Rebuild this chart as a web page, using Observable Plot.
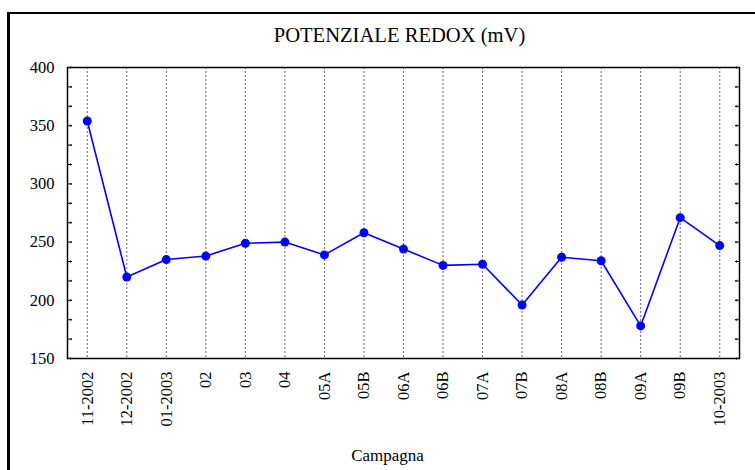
<!DOCTYPE html>
<html><head><meta charset="utf-8">
<script src="https://cdn.jsdelivr.net/npm/d3@7"></script>
<script src="https://cdn.jsdelivr.net/npm/@observablehq/plot@0.6"></script>
<style>
html,body{margin:0;padding:0;background:#fff;overflow:hidden;width:755px;height:470px}
#border{position:absolute;left:7px;top:12px;width:800px;height:520px;border-left:3px solid #000;border-top:2px solid #000}
#chart{position:absolute;left:0;top:0}
#chart svg text{font-family:'Liberation Serif','DejaVu Serif',serif}
</style></head><body><div id="border"></div><div id="chart"></div>
<script>
const campagne = ["11-2002","12-2002","01-2003","02","03","04","05A","05B","06A","06B","07A","07B","08A","08B","09A","09B","10-2003"];
const redox = [354,220,235,238,249,250,239,258,244,230,231,196,237,234,178,271,247];
const yTickLabels = [150,200,250,300,350,400];
const title = "POTENZIALE REDOX (mV)";
const xLabel = "Campagna";

const data = campagne.map((c, i) => ({campagna: c, redox: redox[i]}));
const minorTicks = d3.range(0, 16).map(i => 150 + i * 50 / 3);
const serif = "'Liberation Serif', 'DejaVu Serif', serif";

const chart = Plot.plot({
  width: 755,
  height: 470,
  marginLeft: 67,
  marginRight: 16,
  marginTop: 67,
  marginBottom: 112,
  x: {type: "point", domain: campagne, padding: 0.5, round: false},
  y: {domain: [150, 400]},
  style: {fontFamily: serif, fontSize: "16.5px", background: "transparent", color: "black", overflow: "visible"},
  marks: [
    Plot.ruleX(campagne, {stroke: "#666", strokeDasharray: "2,2", strokeWidth: 1}),
    Plot.vector(minorTicks, {y: d => d, frameAnchor: "left", rotate: 90, length: 4, anchor: "start", stroke: "black", strokeWidth: 1}),
    Plot.vector(minorTicks, {y: d => d, frameAnchor: "right", rotate: -90, length: 4, anchor: "start", stroke: "black", strokeWidth: 1}),
    Plot.frame({stroke: "black", strokeWidth: 1.5}),
    Plot.axisY({ticks: yTickLabels, tickSize: 0, tickPadding: 13, label: null, fontSize: 16.5, fontFamily: serif}),
    Plot.axisX({tickRotate: -90, tickSize: 0, tickPadding: 13, label: null, fontSize: 16.5, fontFamily: serif}),
    Plot.line(data, {x: "campagna", y: "redox", stroke: "#0000ff", strokeWidth: 1.6}),
    Plot.dot(data, {x: "campagna", y: "redox", r: 4.5, fill: "#0000ff"}),
    Plot.text([title], {text: d => d, frameAnchor: "top", dy: -32, dx: -4, fontSize: 20.6, fontFamily: serif, lineAnchor: "middle"}),
    Plot.text([xLabel], {text: d => d, frameAnchor: "bottom", dy: 97, dx: -16, fontSize: 17, fontFamily: serif, lineAnchor: "middle"})
  ]
});
document.getElementById("chart").appendChild(chart);
</script>
</body></html>
